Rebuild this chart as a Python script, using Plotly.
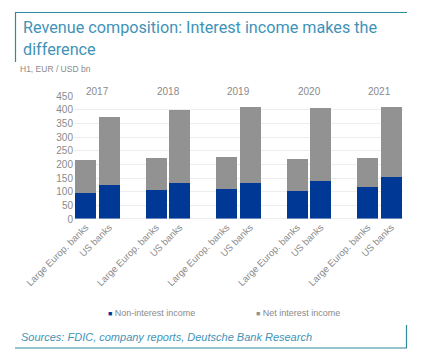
import plotly.graph_objects as go

years = ["2017", "2018", "2019", "2020", "2021"]
bank_groups = ["Large Europ. banks", "US banks"]
non_interest_large = [96, 106, 109, 102, 116]
total_large = [215, 225, 227, 218, 224]
non_interest_us = [126, 132, 131, 140, 153]
total_us = [372, 398, 409, 407, 411]
y_ticks = [0, 50, 100, 150, 200, 250, 300, 350, 400, 450]
title_lines = ["Revenue composition: Interest income makes the", "difference"]

x_pos, labels, non_int, net_int = [], [], [], []
for i, yr in enumerate(years):
    for j, grp in enumerate(bank_groups):
        x_pos.append(i * 3 + j)
        labels.append(grp)
        if j == 0:
            non_int.append(non_interest_large[i])
            net_int.append(total_large[i] - non_interest_large[i])
        else:
            non_int.append(non_interest_us[i])
            net_int.append(total_us[i] - non_interest_us[i])

BLUE = "#003896"
GREY = "#929292"
TEAL = "#3f93b8"
LINE = "#2f8a9c"
TXT = "#8a8a8a"
FONT = "Liberation Sans, Arial, sans-serif"

fig = go.Figure()
fig.add_trace(go.Bar(x=x_pos, y=non_int, name="Non-interest income",
                     marker=dict(color=BLUE, line=dict(width=0))))
fig.add_trace(go.Bar(x=x_pos, y=net_int, name="Net interest income",
                     marker=dict(color=GREY, line=dict(width=0))))

L, R, T, B = 74, 34, 96, 143
W, H = 437, 362
pw = W - L - R
ph = H - T - B

def px_x(px):
    return (px - L) / pw

def px_y(py):
    return (H - B - py) / ph

fig.update_layout(
    width=W, height=H,
    margin=dict(l=L, r=R, t=T, b=B),
    barmode="stack", bargap=0.1,
    plot_bgcolor="white", paper_bgcolor="white",
    font=dict(family=FONT, color=TXT, size=10),
    showlegend=False,
    xaxis=dict(range=[-0.5, 13.5], tickmode="array", tickvals=x_pos, ticktext=labels,
               tickangle=-45, showgrid=False, zeroline=False, showline=False,
               ticks="", tickfont=dict(size=9.5, color=TXT)),
    yaxis=dict(range=[0, 450], tickmode="array", tickvals=y_ticks,
               showgrid=True, gridcolor="#ededed", gridwidth=1, zeroline=False,
               showline=False, ticks="", tickfont=dict(size=10, color=TXT)),
)

# baseline axis line at zero
fig.add_shape(type="line", xref="paper", yref="y", x0=0, x1=1, y0=0, y1=0,
              line=dict(color="#d9d9d9", width=1))

for i, yr in enumerate(years):
    fig.add_annotation(x=i * 3 + 0.5, xref="x", y=px_y(84), yref="paper", text=yr,
                       showarrow=False, font=dict(size=10, color=TXT))

# Legend (small square markers)
for name, color, xp in [("Non-interest income", BLUE, 106), ("Net interest income", GREY, 254)]:
    fig.add_annotation(x=px_x(xp), xref="paper", y=px_y(313), yref="paper", xanchor="left", yanchor="middle",
                       text=f"<span style='color:{color}; font-size:7px'>■</span> {name}",
                       showarrow=False, font=dict(size=9, color=TXT))

# Title and frame
for line, yp in zip(title_lines, [27, 50]):
    fig.add_annotation(x=px_x(21), xref="paper", y=px_y(yp), yref="paper", xanchor="left", yanchor="middle",
                       text=line, showarrow=False,
                       font=dict(family="Roboto, Liberation Sans, sans-serif", size=16.2, color=TEAL))
fig.add_annotation(x=px_x(18), xref="paper", y=px_y(69), yref="paper", xanchor="left", yanchor="middle",
                   text="H1, EUR / USD bn", showarrow=False, font=dict(size=8.5, color=TXT))
fig.add_annotation(x=px_x(19), xref="paper", y=px_y(337), yref="paper", xanchor="left", yanchor="middle",
                   text="<i>Sources: FDIC, company reports, Deutsche Bank Research</i>",
                   showarrow=False, font=dict(size=11, color=TEAL))

for (x0, y0, x1, y1) in [(15, 12.5, 407, 12.5), (15.5, 12.5, 15.5, 62), (15, 348, 407, 348), (406.5, 325, 406.5, 348)]:
    fig.add_shape(type="line", xref="paper", yref="paper",
                  x0=px_x(x0), x1=px_x(x1), y0=px_y(y0), y1=px_y(y1),
                  line=dict(color=LINE, width=1.2))

fig.write_html("out.html", config={"displayModeBar": False},
               post_script="document.body.style.margin='0px';")
